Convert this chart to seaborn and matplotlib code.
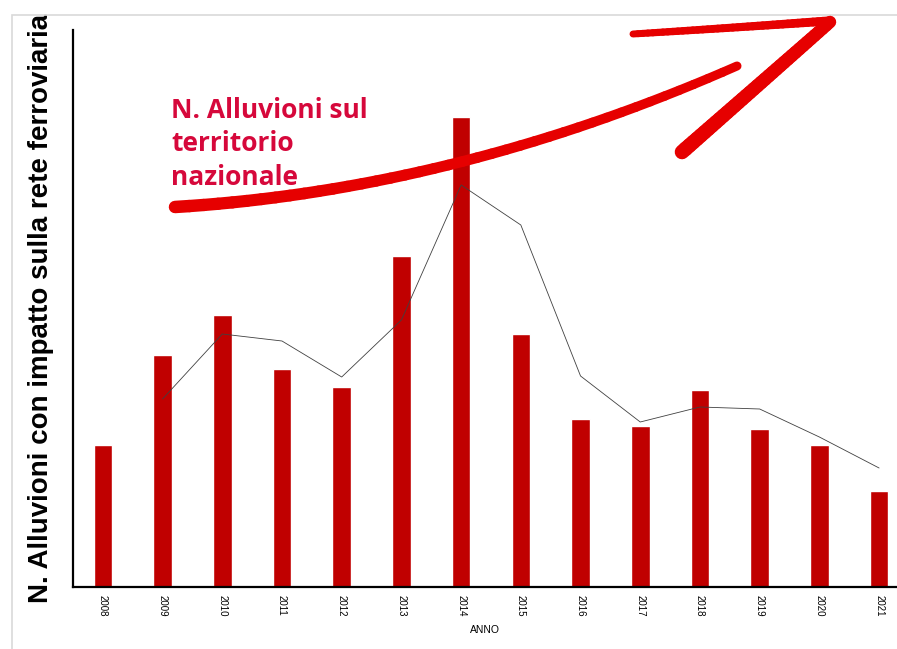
import matplotlib
matplotlib.use('Agg')
import matplotlib.pyplot as plt
import seaborn as sns
import pandas as pd
import numpy as np
from matplotlib.collections import LineCollection
from matplotlib.patches import Rectangle

# data
anni = ['2008', '2009', '2010', '2011', '2012', '2013', '2014',
        '2015', '2016', '2017', '2018', '2019', '2020', '2021']
alluvioni_rete = [14.2, 23.2, 27.2, 21.8, 20.0, 33.1, 47.0,
                  25.3, 16.8, 16.1, 19.7, 15.8, 14.2, 9.6]
# media mobile (2 anni) of the line, from 2009
anni_media = ['2009', '2010', '2011', '2012', '2013', '2014', '2015',
              '2016', '2017', '2018', '2019', '2020', '2021']
media_mobile = [18.8, 25.3, 24.6, 21.0, 26.7, 40.2, 36.2,
                21.1, 16.5, 18.0, 17.8, 15.0, 11.9]

df = pd.DataFrame({'anno': anni, 'n': alluvioni_rete})
df_line = pd.DataFrame({'pos': [anni.index(a) for a in anni_media], 'n': media_mobile})

sns.set_style('white')
plt.rcParams['font.family'] = ['Liberation Sans', 'DejaVu Sans']
plt.rcParams['text.color'] = 'black'
plt.rcParams['axes.labelcolor'] = 'black'
plt.rcParams['xtick.color'] = 'black'

fig = plt.figure(figsize=(8.97, 6.49), dpi=100)
ax = fig.add_axes([73/897, 1 - 587/649, 1 - 73/897, (587 - 30)/649])

# light frame around the whole picture
fig.patches.append(Rectangle((12/897, -0.1), 1.2, (649 - 15)/649 + 0.1,
                             transform=fig.transFigure, fill=False,
                             edgecolor='#d9d9d9', linewidth=1.2, zorder=0))

sns.barplot(data=df, x='anno', y='n', color='#C00000', saturation=1,
            width=0.31, ax=ax, zorder=2)
sns.lineplot(data=df_line, x='pos', y='n', color='#404040', linewidth=0.6,
             ax=ax, zorder=3)

ax.set_xlim(-0.5, 13.3)
ax.set_ylim(0, 55.7)
ax.set_yticks([])
ax.set_xticks(range(len(anni)))
ax.set_xticklabels(anni, rotation=270, fontsize=7)
ax.tick_params(axis='x', length=0, pad=6)
ax.set_xlabel('ANNO', fontsize=7.5, labelpad=6)
ax.set_ylabel('N. Alluvioni con impatto sulla rete ferroviaria', fontsize=20,
              fontweight='bold', labelpad=14,
              bbox=dict(facecolor='white', edgecolor='none', pad=2))
for s in ['top', 'right']:
    ax.spines[s].set_visible(False)
for s in ['left', 'bottom']:
    ax.spines[s].set_color('black')
    ax.spines[s].set_linewidth(1.6)

# hand drawn red arrow (figure pixel coords -> fraction)
def fp(x, y):
    return (x / 897, 1 - y / 649)

def tratto(p0, p1, p2, w0, w1, n=40):
    t = np.linspace(0, 1, n)[:, None]
    a, b, c = (np.array(fp(*p)) for p in (p0, p1, p2))
    pts = (1 - t)**2 * a + 2 * (1 - t) * t * b + t**2 * c
    segs = np.stack([pts[:-1], pts[1:]], axis=1)
    lc = LineCollection(segs, linewidths=np.linspace(w0, w1, n - 1),
                        colors='#E60000', capstyle='round',
                        transform=fig.transFigure, zorder=5)
    fig.add_artist(lc)

tratto((175, 207), (455, 190), (737, 66), 9, 6.5)
tratto((633, 34), (730, 28), (828, 21), 5, 6.5)
tratto((830, 22), (755, 88), (682, 152), 9, 10.5)

fig.text(171/897, 1 - 97/649, 'N. Alluvioni sul\nterritorio\nnazionale',
         color='#D6083B', fontsize=19, fontweight='bold', va='top', ha='left',
         family=['Open Sans', 'DejaVu Sans'], linespacing=1.3)

plt.savefig('out.png', dpi=100)
